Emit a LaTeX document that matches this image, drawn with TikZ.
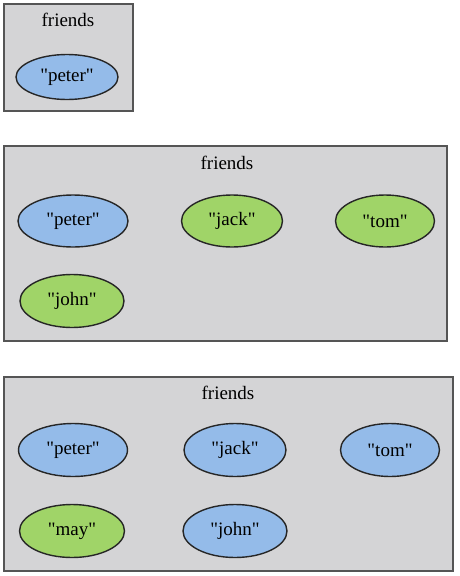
\documentclass[tikz,border=0pt]{standalone}
\usepackage{fontspec}
\setmainfont{Liberation Serif}[Ligatures=TeXOff]
\usetikzlibrary{shapes.geometric}
\definecolor{clgray}{HTML}{D4D4D6}
\definecolor{clborder}{HTML}{555555}
\definecolor{nblue}{HTML}{94BBE9}
\definecolor{ngreen}{HTML}{A0D468}
\tikzset{
  cluster/.style={draw=clborder, fill=clgray, line width=2pt},
  ctitle/.style={font=\fontsize{19}{22}\selectfont, inner sep=0pt},
  person/.style={ellipse, draw=black!85, line width=1.4pt, inner sep=0pt,
    font=\fontsize{19}{22}\selectfont},
  blue/.style={person, fill=nblue},
  green/.style={person, fill=ngreen},
}
\begin{document}
\begin{tikzpicture}[x=1pt,y=-1pt]
\useasboundingbox (0,0) rectangle (459,576);
% cluster 1
\draw[cluster] (4,4) rectangle (133,111);
\node[ctitle] (t1) at (68,20) {friends};
\node[blue, minimum width=102pt, minimum height=45pt] (p1) at (67,77) {"peter"};
% cluster 2
\draw[cluster] (4,146) rectangle (447,341);
\node[ctitle] (t2) at (227,163) {friends};
\node[blue, minimum width=110pt, minimum height=52pt] (p2) at (73,221) {"peter"};
\node[green, minimum width=101pt, minimum height=52pt] (j2) at (232,221) {"jack"};
\node[green, minimum width=99pt, minimum height=52pt] (tm2) at (385,221) {"tom"};
\node[green, minimum width=104pt, minimum height=53pt] (jo2) at (72,301) {"john"};
% cluster 3
\draw[cluster] (4,377) rectangle (453,571);
\node[ctitle] (t3) at (228,393) {friends};
\node[blue, minimum width=109pt, minimum height=53pt] (p3) at (73,450) {"peter"};
\node[blue, minimum width=102pt, minimum height=53pt] (j3) at (235,450) {"jack"};
\node[blue, minimum width=99pt, minimum height=53pt] (tm3) at (390,450) {"tom"};
\node[green, minimum width=105pt, minimum height=53pt] (m3) at (72,531) {"may"};
\node[blue, minimum width=104pt, minimum height=53pt] (jo3) at (235,531) {"john"};
\end{tikzpicture}
\end{document}
